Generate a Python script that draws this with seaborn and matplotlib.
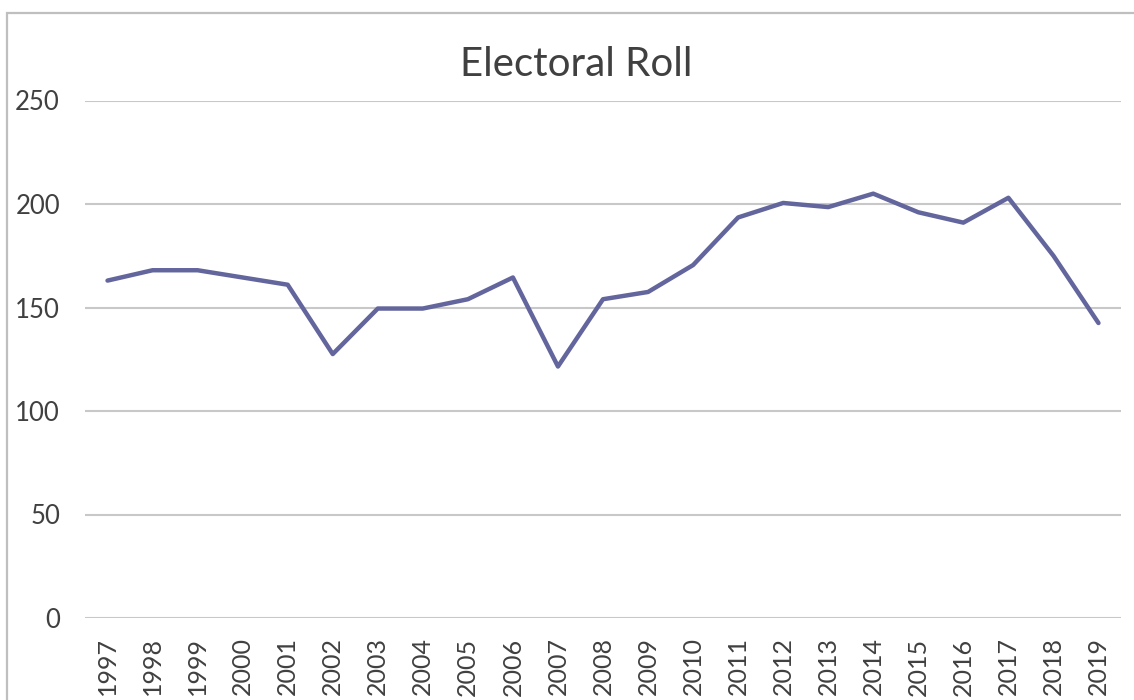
import numpy as np
import pandas as pd
import seaborn as sns
import matplotlib.pyplot as plt
from matplotlib.patches import Rectangle

# ---------------------------------------------------------------------------
# Data
# ---------------------------------------------------------------------------
years = ["1997", "1998", "1999", "2000", "2001", "2002", "2003", "2004",
         "2005", "2006", "2007", "2008", "2009", "2010", "2011", "2012",
         "2013", "2014", "2015", "2016", "2017", "2018", "2019"]
roll = [163, 168, 168, 164.5, 161, 127.5, 149.5, 149.5,
        154, 164.5, 121.5, 154, 157.5, 170.5, 193.5, 200.5,
        198.5, 205, 196, 191, 203, 175, 142.5]
y_ticks = [0, 50, 100, 150, 200, 250]

df = pd.DataFrame({"year": years, "roll": roll})
df["pos"] = np.arange(len(years))

# ---------------------------------------------------------------------------
# Plot
# ---------------------------------------------------------------------------
sns.set_style("white")
plt.rcParams["font.family"] = ["Lato", "DejaVu Sans"]

fig = plt.figure(figsize=(11.34, 7), dpi=100)
ax = fig.add_axes([85 / 1134, 1 - 618 / 700, (1121 - 85) / 1134, (618 - 100.5) / 700])

sns.lineplot(data=df, x="pos", y="roll", ax=ax, color="#63659d", linewidth=3.2)

ax.set_xlim(-0.5, len(years) - 0.5)
ax.set_ylim(0, 250)
ax.set_yticks(y_ticks)
ax.set_xticks(df["pos"])
ax.set_xticklabels(years, rotation=90, va="top")
ax.tick_params(axis="y", length=0, pad=18, labelsize=18.5, labelcolor="#404040")
ax.tick_params(axis="x", length=0, pad=14, labelsize=18, labelcolor="#404040")
ax.grid(axis="y", color="#c8c8c8", linewidth=1.5)
ax.set_axisbelow(True)
ax.set_xlabel("")
ax.set_ylabel("")
for s in ax.spines.values():
    s.set_visible(False)

fig.text(576 / 1134, 1 - 64 / 700, "Electoral Roll", ha="center", va="center",
         fontsize=29, color="#404040")

# chart-area border (only left and top edges fall inside the image)
fig.patches.append(Rectangle((7 / 1134, -0.1), 1.2, 1.1 - 13 / 700,
                             transform=fig.transFigure, fill=False,
                             edgecolor="#bfbfbf", linewidth=1.6))

fig.savefig("out.png", dpi=100, facecolor="white")
